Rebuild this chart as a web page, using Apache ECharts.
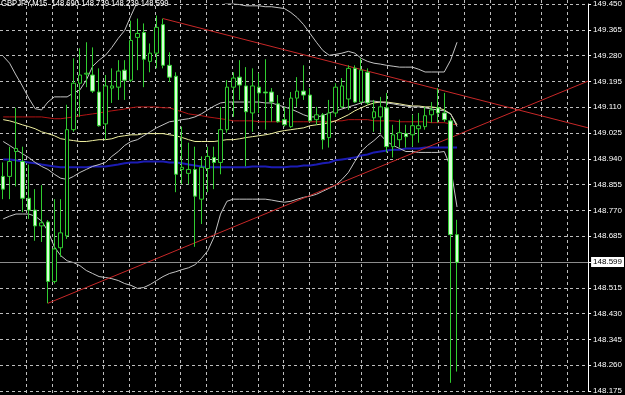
<!DOCTYPE html>
<html><head><meta charset="utf-8">
<script src="https://cdn.jsdelivr.net/npm/echarts@6/dist/echarts.min.js"></script>
<style>html,body{margin:0;padding:0;background:#000;}#c{width:625px;height:395px;}</style>
</head><body><div id="c"></div>
<script>
const symbol = 'GBPJPY,M15';
const opens = [148.882,148.882,148.964,148.931,148.810,148.771,148.719,148.732,148.536,148.647,
148.686,149.036,149.189,149.219,149.216,149.160,149.055,149.173,149.176,149.232,
149.199,149.340,149.356,149.261,149.288,149.382,149.248,149.212,148.905,148.892,
148.905,148.807,148.908,148.944,148.928,149.036,149.176,149.209,149.180,149.091,
149.176,149.160,149.160,149.121,149.069,149.046,149.140,149.163,149.150,149.069,
149.085,149.010,149.091,149.111,149.137,149.238,149.127,149.225,149.075,149.078,
149.108,148.980,149.003,149.023,149.019,149.039,149.046,149.085,149.108,149.091,
149.065,148.690];
const closes = [148.840,148.931,148.974,148.810,148.771,148.719,148.729,148.536,148.643,148.696,
149.036,149.189,149.216,149.222,149.163,149.049,149.180,149.180,149.229,149.199,
149.330,149.353,149.268,149.288,149.373,149.248,149.209,148.889,148.912,148.905,
148.817,148.912,148.948,148.928,149.036,149.176,149.206,149.183,149.095,149.180,
149.157,149.157,149.127,149.062,149.052,149.140,149.163,149.150,149.065,149.085,
149.003,149.091,149.176,149.180,149.238,149.127,149.232,149.124,149.095,149.111,
148.980,149.019,149.026,149.013,149.049,149.049,149.082,149.101,149.091,149.069,
148.690,148.599];
const highs = [148.928,148.980,149.108,148.980,148.921,148.840,148.853,148.738,148.807,148.807,
149.118,149.271,149.304,149.324,149.307,149.238,149.216,149.238,149.265,149.265,
149.395,149.402,149.386,149.320,149.412,149.402,149.291,149.225,149.046,148.993,
148.980,148.948,148.980,148.980,149.111,149.199,149.225,149.265,149.242,149.238,
149.222,149.268,149.173,149.150,149.111,149.160,149.209,149.248,149.173,149.111,
149.091,149.134,149.189,149.206,149.248,149.248,149.271,149.238,149.134,149.144,
149.157,149.052,149.069,149.052,149.085,149.091,149.111,149.127,149.173,149.157,
149.075,148.739];
const lows = [148.807,148.807,148.849,148.764,148.742,148.670,148.666,148.464,148.529,148.617,
148.676,149.029,149.078,149.176,149.157,149.046,149.003,149.124,149.134,149.134,
149.193,149.232,149.176,149.225,149.238,149.238,149.193,148.830,148.856,148.856,
148.650,148.725,148.830,148.840,148.889,149.026,149.078,149.134,148.915,149.029,
149.091,149.036,149.062,149.059,149.046,149.042,149.111,149.134,149.062,149.052,
148.971,148.977,149.078,149.108,149.101,149.124,149.124,149.118,149.029,149.026,
148.961,148.944,148.977,148.977,148.980,148.993,149.036,149.059,149.059,149.062,
148.202,148.239];

const bbUpper = [149.278,149.255,149.216,149.180,149.140,149.105,149.101,149.127,149.144,149.144,
149.144,149.157,149.167,149.199,149.245,149.265,149.281,149.307,149.337,149.363,
149.412,149.458,149.487,149.510,149.526,149.539,149.543,149.543,149.533,149.520,
149.503,149.487,149.474,149.464,149.458,149.451,149.451,149.448,149.444,149.444,
149.444,149.441,149.441,149.438,149.435,149.422,149.405,149.382,149.353,149.324,
149.297,149.281,149.284,149.288,149.294,149.288,149.271,149.261,149.255,149.252,
149.248,149.245,149.242,149.242,149.242,149.235,149.226,149.226,149.226,149.226,
149.265,149.324];
const bbMiddle = [148.997,148.984,148.970,148.957,148.944,148.928,148.915,148.905,148.889,148.876,
148.872,148.882,148.895,148.905,148.915,148.921,148.928,148.948,148.964,148.984,
148.997,149.003,149.016,149.029,149.042,149.052,149.062,149.065,149.069,149.072,
149.078,149.088,149.101,149.114,149.124,149.127,149.127,149.127,149.127,149.127,
149.127,149.124,149.124,149.117,149.111,149.104,149.095,149.085,149.078,149.078,
149.082,149.091,149.098,149.104,149.111,149.117,149.124,149.130,149.130,149.127,
149.124,149.121,149.117,149.114,149.111,149.111,149.108,149.104,149.101,149.098,
149.088,149.046];
const bbLower = [148.742,148.751,148.758,148.758,148.758,148.751,148.735,148.702,148.650,148.621,
148.604,148.598,148.588,148.572,148.562,148.552,148.549,148.545,148.539,148.529,
148.523,148.513,148.516,148.526,148.539,148.552,148.562,148.568,148.575,148.581,
148.591,148.611,148.637,148.683,148.758,148.800,148.807,148.807,148.807,148.807,
148.807,148.807,148.804,148.800,148.797,148.800,148.807,148.813,148.817,148.823,
148.833,148.843,148.853,148.872,148.895,148.931,148.964,148.984,149.000,149.019,
148.997,148.984,148.974,148.964,148.964,148.961,148.961,148.961,148.961,148.964,
148.912,148.781];
const maYellow = [149.069,149.065,149.059,149.052,149.046,149.039,149.029,149.023,149.016,149.006,
149.003,149.000,148.997,148.997,149.000,149.003,149.003,149.006,149.013,149.016,
149.019,149.019,149.023,149.023,149.023,149.023,149.019,149.016,149.010,149.003,
148.997,148.997,148.997,148.997,149.000,149.003,149.003,149.006,149.010,149.013,
149.016,149.019,149.023,149.029,149.033,149.036,149.039,149.042,149.049,149.052,
149.055,149.059,149.065,149.075,149.085,149.098,149.108,149.117,149.124,149.127,
149.127,149.124,149.121,149.117,149.114,149.114,149.111,149.111,149.108,149.101,
149.088,149.052];
const maRed = [149.078,149.078,149.078,149.078,149.078,149.078,149.078,149.075,149.072,149.072,
149.075,149.078,149.082,149.085,149.088,149.091,149.095,149.098,149.101,149.104,
149.108,149.111,149.111,149.111,149.111,149.108,149.108,149.101,149.095,149.088,
149.085,149.082,149.078,149.075,149.072,149.069,149.065,149.065,149.065,149.065,
149.062,149.062,149.062,149.062,149.062,149.062,149.062,149.062,149.062,149.062,
149.062,149.062,149.065,149.065,149.069,149.069,149.069,149.069,149.065,149.065,
149.065,149.065,149.062,149.062,149.062,149.062,149.062,149.059,149.059,149.059,
149.055,149.052];
const maBlue = [148.938,148.938,148.935,148.931,148.928,148.925,148.921,148.918,148.915,148.912,
148.912,148.912,148.912,148.912,148.915,148.915,148.915,148.918,148.921,148.925,
148.928,148.928,148.931,148.931,148.931,148.931,148.928,148.928,148.925,148.921,
148.918,148.915,148.912,148.912,148.912,148.912,148.912,148.912,148.912,148.915,
148.915,148.915,148.912,148.912,148.912,148.915,148.915,148.918,148.918,148.921,
148.925,148.928,148.935,148.938,148.941,148.944,148.951,148.954,148.961,148.964,
148.967,148.970,148.970,148.974,148.974,148.974,148.977,148.977,148.977,148.977,
148.977,148.977];

const trendUpper = [[25, 149.402], [91.5, 149.042]];
const trendLower = [[7, 148.464], [91.5, 149.196]];
const yTickLabels = ['148.175','148.260','148.345','148.430','148.515','148.600','148.685','148.770',
'148.855','148.940','149.025','149.110','149.195','149.280','149.365','149.450'];
const totalSlots = 92;
const gridSteps = 21;

const slots = Array.from({length: totalSlots}, (_, i) => String(i));
const candleData = opens.map((o, i) => [o, closes[i], lows[i], highs[i]]);
const indexed = arr => arr.map((v, i) => [i, v]);
const last = opens.length - 1;
const bidText = closes[last].toFixed(3);
const header = symbol + '  ' + [opens[last], highs[last], lows[last], closes[last]].map(v => v.toFixed(3)).join(' ');

const FONT = "'Liberation Sans', Arial, sans-serif";
const dashed = {type: [3, 3], color: '#bdbdbd', width: 1};

function lineSeries(data, color, width) {
  return {type: 'line', xAxisIndex: 1, yAxisIndex: 0, data: data, symbol: 'none', showSymbol: false,
    lineStyle: {color: color, width: width}, silent: true, animation: false, z: 4, clip: true};
}

const chart = echarts.init(document.getElementById('c'), null, {renderer: 'canvas'});
chart.setOption({
  backgroundColor: '#000',
  animation: false,
  graphic: [{
    type: 'text', x: 1, y: -0.5, scaleX: 0.85, z: 100, silent: true,
    style: {text: header, fill: '#ffffff', font: "9px 'Liberation Sans', Arial, sans-serif", verticalAlign: 'top', align: 'left'}
  }],
  grid: [
    {left: -3.975, right: 35.575, top: 3.3, bottom: 1.7, containLabel: false},
    {left: 26, right: 57.8, top: 0, bottom: 0, containLabel: false}
  ],
  xAxis: [
    {type: 'category', gridIndex: 0, data: slots, boundaryGap: true, show: false},
    {type: 'value', gridIndex: 0, min: -0.5, max: totalSlots - 0.5, show: false},
    {type: 'value', gridIndex: 1, min: 0, max: gridSteps, interval: 1,
      axisLine: {show: false}, axisTick: {show: false}, axisLabel: {show: false},
      splitLine: {show: true, lineStyle: dashed}}
  ],
  yAxis: [
    {type: 'value', gridIndex: 0, min: 148.175, max: 149.450, show: false},
    {type: 'category', gridIndex: 0, data: yTickLabels, boundaryGap: false, position: 'right',
      axisLine: {show: true, lineStyle: {color: '#ffffff', width: 1}},
      axisTick: {show: true, length: 3, interval: 0, lineStyle: {color: '#ffffff'}},
      axisLabel: {show: true, interval: 0, color: '#ffffff', fontSize: 8, fontFamily: FONT, margin: 5},
      splitLine: {show: true, interval: 0, lineStyle: dashed}},
    {type: 'value', gridIndex: 1, show: false}
  ],
  series: [
    lineSeries(indexed(maBlue), '#1c1cb4', 2),
    lineSeries(indexed(maRed), '#b41414', 1),
    lineSeries(indexed(maYellow), '#f0f0a0', 1),
    lineSeries(indexed(bbUpper), '#c4c4c4', 1),
    lineSeries(indexed(bbMiddle), '#c4c4c4', 1),
    lineSeries(indexed(bbLower), '#c4c4c4', 1),
    lineSeries(trendUpper, '#c82828', 1),
    lineSeries(trendLower, '#c82828', 1),
    {
      type: 'candlestick', xAxisIndex: 0, yAxisIndex: 0, data: candleData, barWidth: 4, z: 5,
      animation: false, silent: true,
      itemStyle: {color: '#000000', color0: '#d8ffd8', borderColor: '#30cc30', borderColor0: '#30cc30', borderWidth: 1},
      markLine: {
        symbol: ['none', 'none'], silent: true, animation: false,
        data: [{yAxis: closes[last]}],
        lineStyle: {color: '#8c8c8c', width: 1, type: 'solid'},
        label: {show: true, position: 'end', distance: 3, formatter: () => bidText,
          color: '#000', backgroundColor: '#ffffff', padding: [1, 2, 1, 2], fontSize: 8, fontFamily: FONT}
      }
    }
  ]
});
</script></body></html>
